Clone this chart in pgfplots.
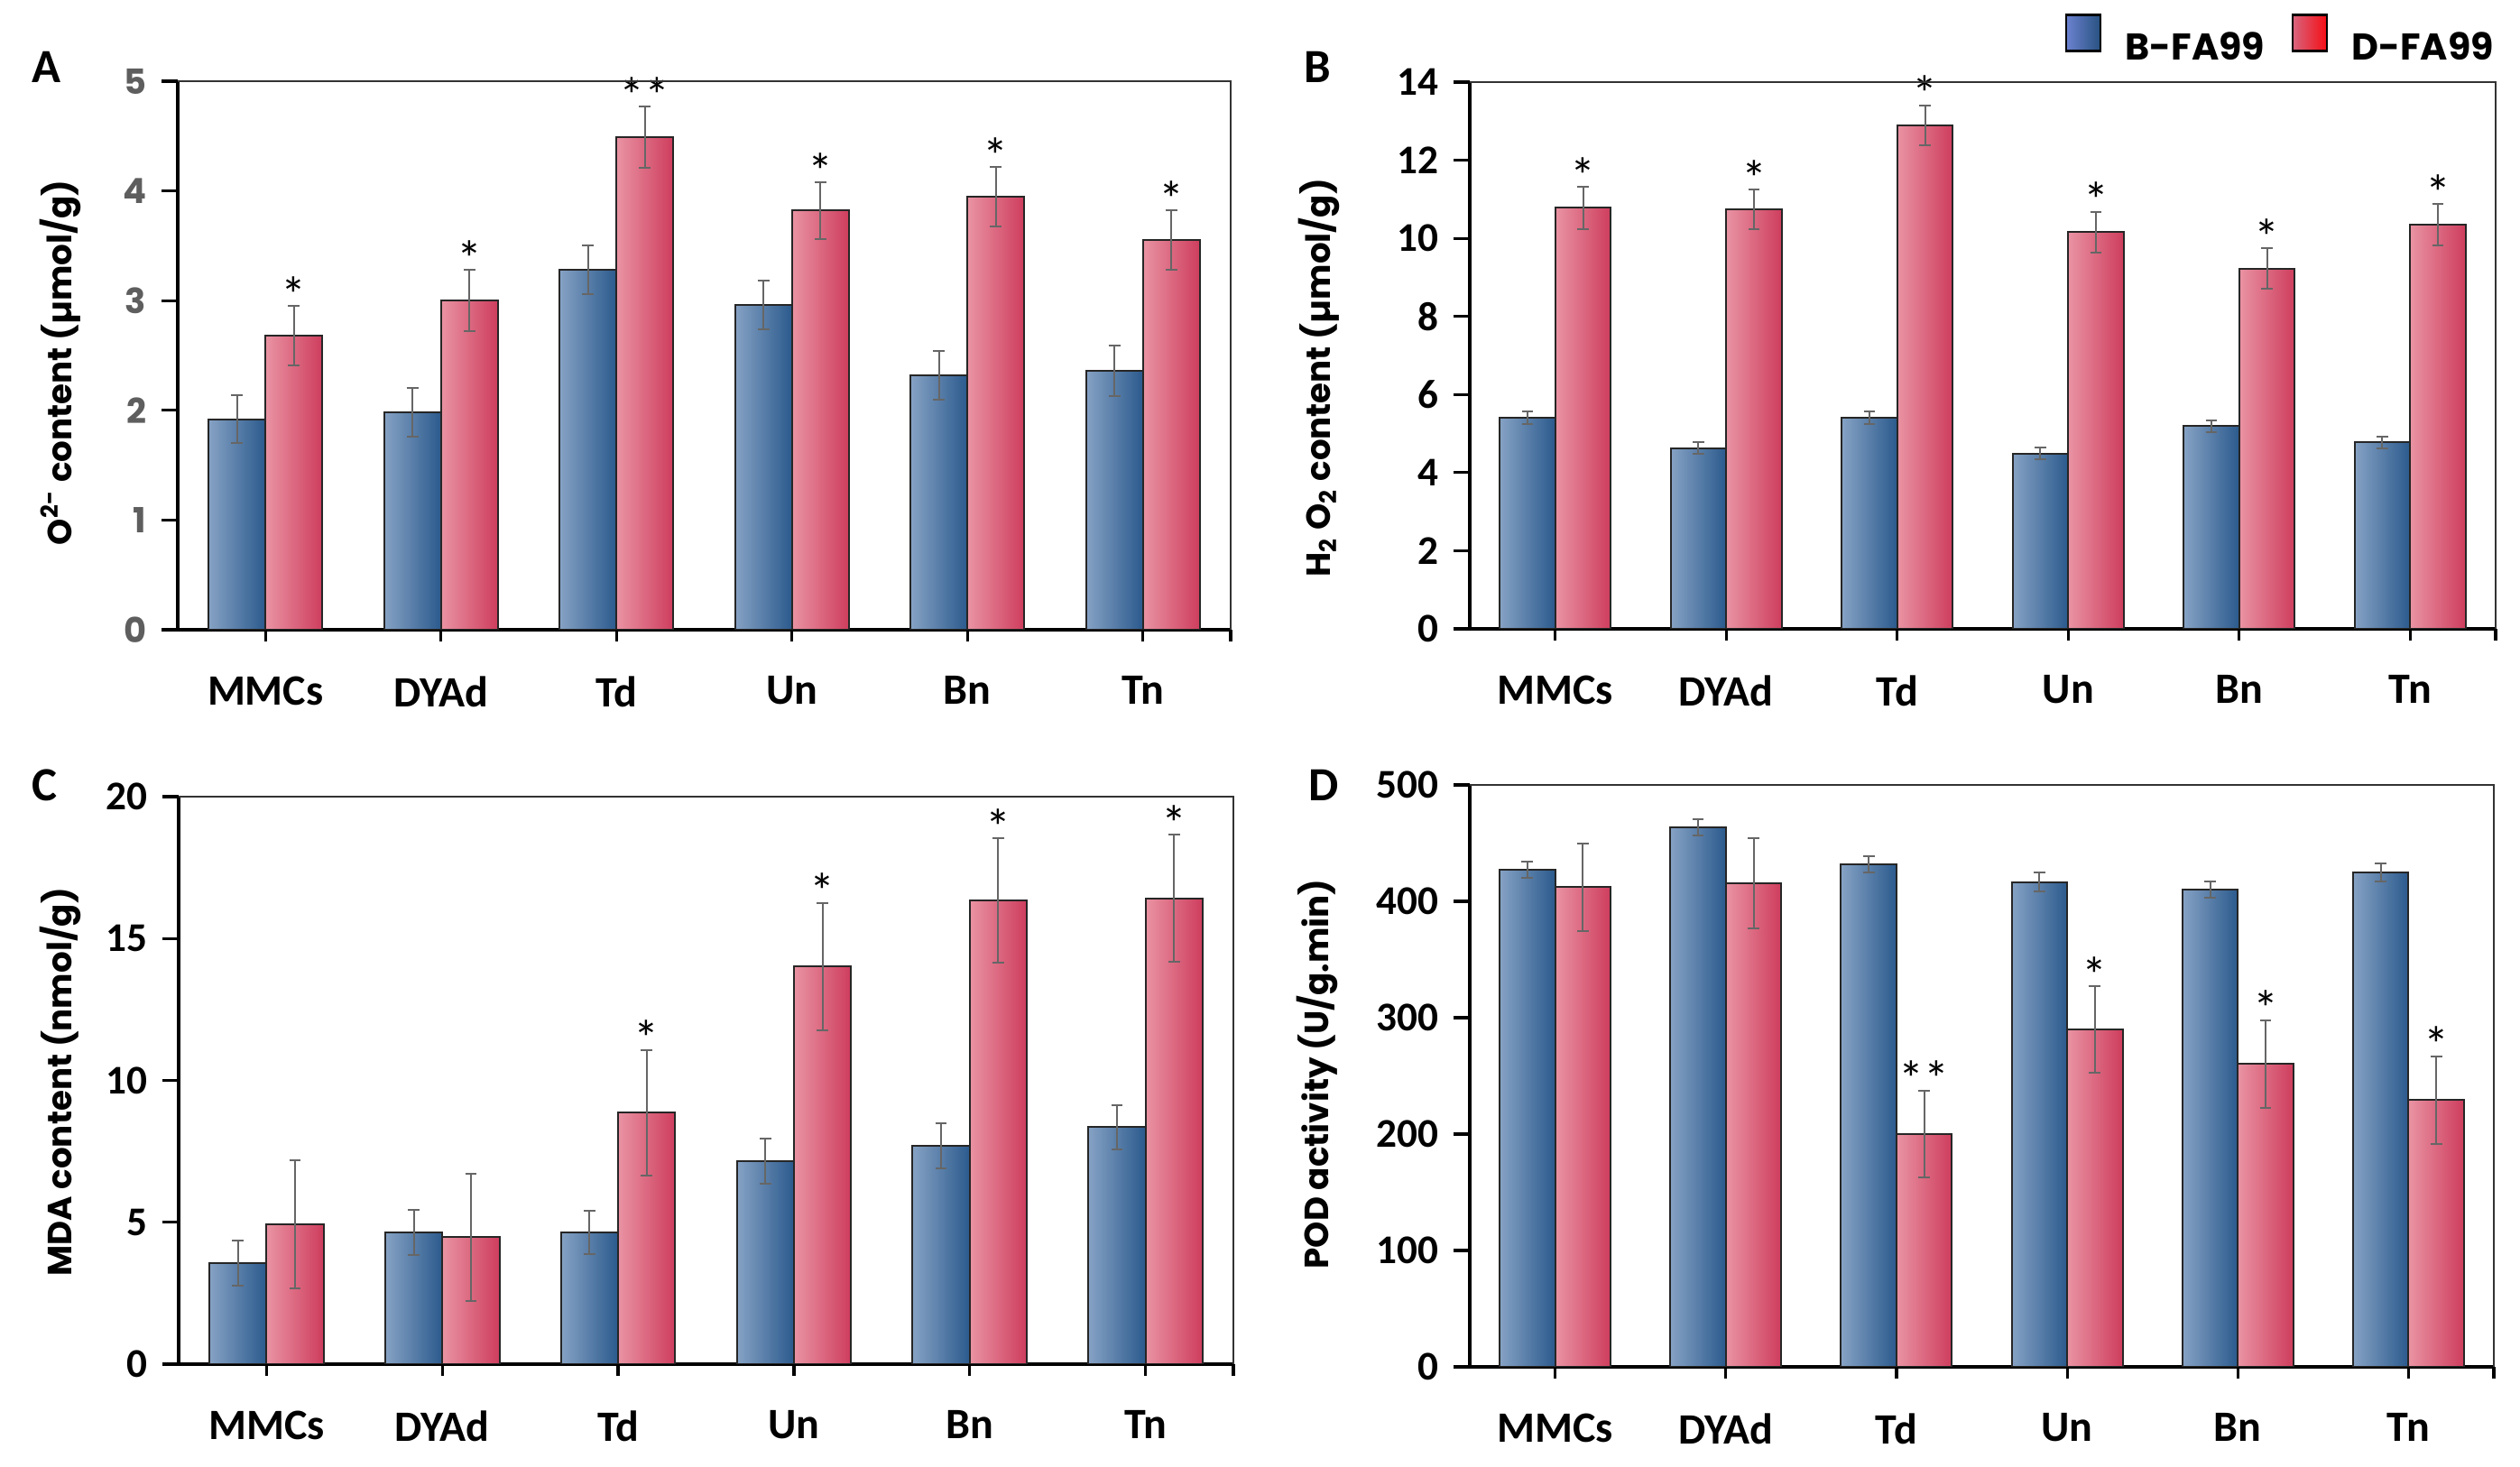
\documentclass[border=0pt]{standalone}
\usepackage{fontspec}
\setmainfont{Carlito}
\newfontfamily\gothic{Poppins}
\usepackage{pgfplots}
\usepackage{pgfplotstable}
\pgfplotsset{compat=1.18}

\definecolor{bluL}{HTML}{86A2C4}
\definecolor{bluR}{HTML}{2B5A8D}
\definecolor{redL}{HTML}{E993A3}
\definecolor{redR}{HTML}{CE3D5D}
\definecolor{errc}{HTML}{666666}
\definecolor{tickgrey}{HTML}{5E5E5E}
\newcommand\dstar{**}

% x = category, b/be = B-FA99 mean/error, r/re = D-FA99 mean/error
\pgfplotstableread{
x b be r re
0 1.92 0.22 2.68 0.27
1 1.98 0.22 3.00 0.28
2 3.28 0.22 4.49 0.28
3 2.96 0.22 3.82 0.26
4 2.32 0.22 3.95 0.27
5 2.36 0.23 3.55 0.27
}\dataA
\pgfplotstableread{
x t s
0 2.95 *
1 3.28 *
2 4.77 \dstar
3 4.08 *
4 4.22 *
5 3.82 *
}\sigA

\pgfplotstableread{
x b be r re
0 5.40 0.16 10.78 0.54
1 4.63 0.16 10.74 0.51
2 5.40 0.16 12.90 0.51
3 4.49 0.15 10.16 0.52
4 5.19 0.15 9.22 0.52
5 4.78 0.15 10.34 0.53
}\dataB
\pgfplotstableread{
x t s
0 11.32 *
1 11.25 *
2 13.41 *
3 10.68 *
4 9.74 *
5 10.87 *
}\sigB

\pgfplotstableread{
x b be r re
0 3.57 0.79 4.92 2.26
1 4.64 0.79 4.48 2.24
2 4.64 0.77 8.87 2.21
3 7.16 0.79 14.02 2.24
4 7.70 0.80 16.35 2.19
5 8.36 0.78 16.41 2.24
}\dataC
\pgfplotstableread{
x t s
2 11.08 *
3 16.26 *
4 18.54 *
5 18.65 *
}\sigC

\pgfplotstableread{
x b be r re
0 427.4 7.0 412.2 37.7
1 463.9 7.0 415.4 38.5
2 431.8 7.3 200.1 37.3
3 416.6 8.0 289.9 37.3
4 410.2 7.2 260.2 37.7
5 424.6 7.6 229.3 37.7
}\dataD
\pgfplotstableread{
x t s
2 237.4 \dstar
3 327.2 *
4 297.9 *
5 267.0 *
}\sigD

\pgfplotsset{
  panel/.style={
    scale only axis, anchor=south west,
    axis lines=left, axis line style={-, line width=0.9pt, black},
    ybar, bar width=0.325, ymin=0, xmin=-0.5, xmax=5.5, enlargelimits=false,
    xtick={0,1,2,3,4,5,5.5}, xticklabels={MMCs,DYAd,Td,Un,Bn,Tn,},
    tick align=outside, major tick length=4.5pt,
    xtick style={/pgfplots/major tick length=3.25pt, line width=0.8pt, black},
    ytick style={line width=0.8pt, black},
    xticklabel style={font=\bfseries\fontsize{12}{13}\selectfont, inner sep=0pt, yshift=-8.2pt},
    yticklabel style={font=\bfseries\fontsize{11.3}{12}\selectfont, inner sep=0pt, xshift=-4pt},
    /pgf/number format/assume math mode=true,
    every axis y label/.style={rotate=90, anchor=center,
      font=\gothic\bfseries\fontsize{9.3}{11}\selectfont},
    extra description/.code={
      \draw[line width=0.5pt, black!80] (axis description cs:0,1) -- (axis description cs:1,1) -- (axis description cs:1,0);},
  },
  errs/.style={error bars/.cd, y dir=both, y explicit,
    error bar style={line width=0.5pt, errc},
    error mark options={rotate=90, mark size=1.6pt, line width=0.5pt, errc}},
  % one plot per bar, so that each bar gets its own gradient
  blu/.style={forget plot, x filter/.expression={abs(x-#1)<0.2 ? x : nan}, draw=black!85, line width=0.5pt,
    left color=bluL, right color=bluR, bar shift=-0.1625, errs},
  rd/.style={forget plot, x filter/.expression={abs(x-#1)<0.2 ? x : nan}, draw=black!85, line width=0.5pt,
    left color=redL, right color=redR, bar shift=0.1625, errs},
  sig/.style={forget plot, draw=none, fill=none, bar shift=0.1625, nodes near coords,
    point meta=explicit symbolic,
    every node near coord/.append style={font=\fontsize{14}{14}\selectfont, inner sep=0pt, anchor=south, yshift=-2pt}},
}

\begin{document}
\begin{tikzpicture}
\useasboundingbox (0,0) rectangle (698.25pt,406.5pt);

% A
\begin{axis}[panel, at={(49.25pt,232pt)}, width=291.75pt, height=152pt,
  ymax=5, ytick={0,1,2,3,4,5},
  yticklabel style={font=\gothic\bfseries\fontsize{9.6}{10}\selectfont, text=tickgrey},
  ylabel={O\textsuperscript{2-} content (µmol/g)},
  ylabel style={at={(axis description cs:-0.1114,0.487)}}]
\pgfplotsinvokeforeach{0,...,5}{
  \addplot[blu=#1] table[x=x, y=b, y error=be] {\dataA};
  \addplot[rd=#1] table[x=x, y=r, y error=re] {\dataA};
}
\addplot[sig] table[x=x, y=t, meta=s] {\sigA};
\end{axis}

% B
\begin{axis}[panel, at={(407.25pt,232.25pt)}, width=284.25pt, height=151.5pt,
  ymax=14, ytick={0,2,...,14},
  ylabel={H\textsubscript{2} O\textsubscript{2} content (µmol/g)},
  ylabel style={at={(axis description cs:-0.147,0.459)}},
  legend columns=2,
  legend style={at={(axis description cs:0.5805,1.0776)}, anchor=west, draw=none, fill=none,
    inner sep=0pt, outer sep=0pt, font=\gothic\bfseries\fontsize{10.3}{12}\selectfont,
    nodes={inner sep=0pt},
    /tikz/every odd column/.append style={column sep=6.5pt},
    /tikz/every even column/.append style={column sep=7.5pt}},
  legend cell align=left]
\pgfplotsinvokeforeach{0,...,5}{
  \addplot[blu=#1] table[x=x, y=b, y error=be] {\dataB};
  \addplot[rd=#1] table[x=x, y=r, y error=re] {\dataB};
}
\addplot[sig] table[x=x, y=t, meta=s] {\sigB};
\addlegendimage{legend image code/.code={\draw[draw=black, line width=0.6pt, left color=bluL!80!blue, right color=bluR!90!black] (0pt,-0.5pt) rectangle (9.5pt,9.5pt);}}
\addlegendentry{B-FA99}
\addlegendimage{legend image code/.code={\draw[draw=black, line width=0.6pt, left color=redR!80!white, right color=red!80!redR] (0pt,-0.5pt) rectangle (9.5pt,9.5pt);}}
\addlegendentry{D-FA99}
\end{axis}

% C
\begin{axis}[panel, at={(49.5pt,28.5pt)}, width=292.25pt, height=157.25pt,
  ymax=20, ytick={0,5,...,20},
  ylabel={MDA content (nmol/g)},
  ylabel style={at={(axis description cs:-0.1117,0.497)}}]
\pgfplotsinvokeforeach{0,...,5}{
  \addplot[blu=#1] table[x=x, y=b, y error=be] {\dataC};
  \addplot[rd=#1] table[x=x, y=r, y error=re] {\dataC};
}
\addplot[sig] table[x=x, y=t, meta=s] {\sigC};
\end{axis}

% D
\begin{axis}[panel, at={(407.25pt,27.75pt)}, width=283.75pt, height=161.25pt,
  ymax=500, ytick={0,100,...,500},
  ylabel={POD activity (U/g.min)},
  ylabel style={at={(axis description cs:-0.149,0.503)}}]
\pgfplotsinvokeforeach{0,...,5}{
  \addplot[blu=#1] table[x=x, y=b, y error=be] {\dataD};
  \addplot[rd=#1] table[x=x, y=r, y error=re] {\dataD};
}
\addplot[sig] table[x=x, y=t, meta=s] {\sigD};
\end{axis}

% panel letters
\begin{scope}[every node/.style={anchor=base west, inner sep=0pt, font=\bfseries\fontsize{13.2}{14}\selectfont}]
\node at (8.75pt,383.5pt) {A};
\node at (361.25pt,383.5pt) {B};
\node at (8.75pt,184.5pt) {C};
\node at (362.5pt,184.5pt) {D};
\end{scope}
\end{tikzpicture}
\end{document}
